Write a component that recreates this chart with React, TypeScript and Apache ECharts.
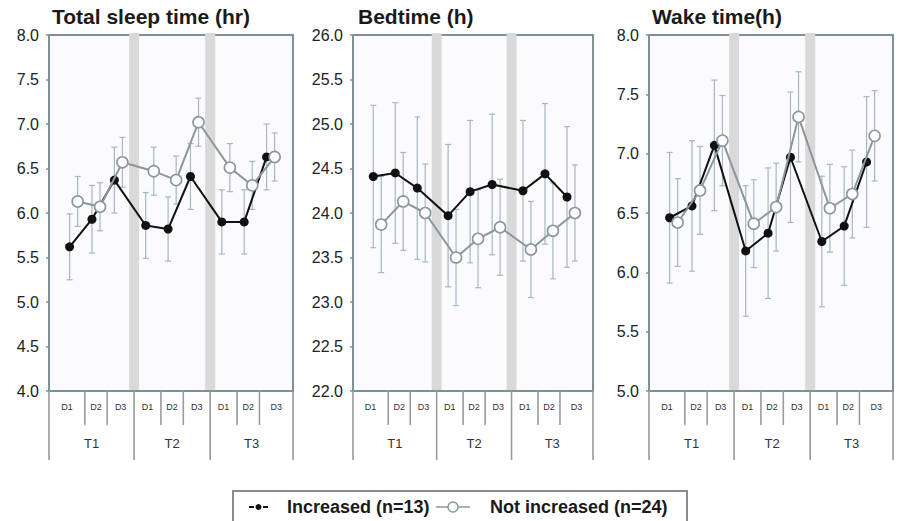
import React, { useEffect, useRef } from 'react';
import * as echarts from 'echarts';

const periods = ['T1', 'T2', 'T3'];
const days = ['D1', 'D2', 'D3'];
const seriesNames = ['Increased (n=13)', 'Not increased (n=24)'];
const panelTitles = ['Total sleep time (hr)', 'Bedtime (h)', 'Wake time(h)'];
const yMins = [4, 22, 5];
const yMaxs = [8, 26, 8];

// Total sleep time (hr)
const incSleep = [5.62, 5.93, 6.37, 5.86, 5.82, 6.41, 5.9, 5.9, 6.63];
const incSleepErr = [0.37, 0.38, 0.37, 0.37, 0.36, 0.37, 0.36, 0.36, 0.37];
const notSleep = [6.13, 6.07, 6.57, 6.47, 6.37, 7.02, 6.51, 6.31, 6.63];
const notSleepErr = [0.28, 0.27, 0.28, 0.27, 0.27, 0.27, 0.27, 0.27, 0.27];

// Bedtime (h)
const incBed = [24.41, 24.45, 24.28, 23.97, 24.24, 24.32, 24.25, 24.44, 24.18];
const incBedErr = [0.8, 0.79, 0.8, 0.8, 0.8, 0.79, 0.79, 0.79, 0.79];
const notBed = [23.87, 24.13, 24.0, 23.5, 23.71, 23.84, 23.59, 23.8, 24.0];
const notBedErr = [0.54, 0.55, 0.55, 0.54, 0.55, 0.54, 0.54, 0.54, 0.54];

// Wake time (h)
const incWake = [6.46, 6.56, 7.07, 6.18, 6.33, 6.97, 6.26, 6.39, 6.93];
const incWakeErr = [0.55, 0.55, 0.55, 0.55, 0.55, 0.55, 0.55, 0.5, 0.55];
const notWake = [6.42, 6.69, 7.11, 6.41, 6.55, 7.31, 6.54, 6.66, 7.15];
const notWakeErr = [0.37, 0.37, 0.38, 0.37, 0.37, 0.38, 0.37, 0.37, 0.38];

const panelData = [
  { inc: incSleep, incErr: incSleepErr, not: notSleep, notErr: notSleepErr },
  { inc: incBed, incErr: incBedErr, not: notBed, notErr: notBedErr },
  { inc: incWake, incErr: incWakeErr, not: notWake, notErr: notWakeErr },
];

// layout constants
const GROUP_STEP = 3.4;
const OFFSET = 0.36;
const X_MIN = -0.92;
const X_MAX = 9.98;
const BAND_HALF = 0.225;
const FONT = '"Liberation Sans", Arial, Helvetica, sans-serif';
const GRID_LEFT = [49, 353, 649];
const GRID_WIDTH = [244, 240, 244];
const TITLE_LEFT = [52, 358, 652];
const GRID_TOP = 35;
const GRID_HEIGHT = 356;

const NOT_COLOR = '#8b979b';
const ERR_COLOR = '#a3b8c1';

function xOf(i: number, s: number) {
  const g = Math.floor(i / days.length);
  const d = i % days.length;
  return g * GROUP_STEP + d + s * OFFSET;
}
function groupBoundary(g: number) {
  return g * GROUP_STEP + (days.length - 1 + OFFSET + GROUP_STEP) / 2;
}
function groupStart(g: number) {
  return g === 0 ? X_MIN : groupBoundary(g - 1);
}
function groupEnd(g: number) {
  return g === periods.length - 1 ? X_MAX : groupBoundary(g);
}
function dayCells(g: number) {
  const cuts = [groupStart(g)];
  for (let d = 0; d < days.length - 1; d++) cuts.push(g * GROUP_STEP + d + 0.5 + OFFSET / 2);
  cuts.push(groupEnd(g));
  return cuts;
}

function errorSeries(p: number, vals: number[], errs: number[], s: number) {
  return {
    type: 'custom',
    xAxisIndex: p,
    yAxisIndex: p,
    silent: true,
    z: 2,
    clip: false,
    data: vals.map((v, i) => [xOf(i, s), v - errs[i], v + errs[i]]),
    renderItem: (params: any, api: any) => {
      const x = api.value(0);
      const lo = api.coord([x, api.value(1)]);
      const hi = api.coord([x, api.value(2)]);
      const st = { stroke: ERR_COLOR, lineWidth: 1.2 };
      return {
        type: 'group',
        children: [
          { type: 'line', shape: { x1: lo[0], y1: lo[1], x2: hi[0], y2: hi[1] }, style: st },
          { type: 'line', shape: { x1: hi[0] - 3, y1: hi[1], x2: hi[0] + 3, y2: hi[1] }, style: st },
          { type: 'line', shape: { x1: lo[0] - 3, y1: lo[1], x2: lo[0] + 3, y2: lo[1] }, style: st },
        ],
      };
    },
  };
}

function bandSeries(p: number) {
  const centers = periods.slice(0, -1).map((_, g) => groupBoundary(g));
  return {
    type: 'custom',
    xAxisIndex: p,
    yAxisIndex: p,
    silent: true,
    z: 1,
    clip: false,
    data: centers.map((c) => [c]),
    renderItem: (params: any, api: any) => {
      const c = api.value(0);
      const a = api.coord([c - BAND_HALF, yMaxs[p]]);
      const b = api.coord([c + BAND_HALF, yMins[p]]);
      return {
        type: 'rect',
        shape: { x: a[0], y: a[1] - 2, width: b[0] - a[0], height: b[1] - a[1] + 1 },
        style: { fill: '#d9d9d9' },
      };
    },
  };
}

function tableSeries(p: number) {
  return {
    type: 'custom',
    xAxisIndex: p,
    yAxisIndex: p,
    silent: true,
    z: 1,
    clip: false,
    data: [[0, yMins[p]]],
    renderItem: (params: any, api: any) => {
      const yb = api.coord([0, yMins[p]])[1];
      const px = (v: number) => api.coord([v, yMins[p]])[0];
      const st = { stroke: '#9a9a9a', lineWidth: 1.6 };
      const children: any[] = [];
      const edges = [X_MIN, ...periods.map((_, g) => groupEnd(g))];
      edges.forEach((v) => {
        children.push({ type: 'line', shape: { x1: px(v), y1: yb, x2: px(v), y2: yb + 69 }, style: st });
      });
      periods.forEach((pl, g) => {
        const cuts = dayCells(g);
        for (let k = 1; k < cuts.length - 1; k++) {
          children.push({ type: 'line', shape: { x1: px(cuts[k]), y1: yb, x2: px(cuts[k]), y2: yb + 34 }, style: st });
        }
        days.forEach((dl, d) => {
          children.push({
            type: 'text',
            style: {
              text: dl,
              x: px((cuts[d] + cuts[d + 1]) / 2),
              y: yb + 16,
              align: 'center',
              verticalAlign: 'middle',
              fontSize: 9,
              fill: '#333',
              fontFamily: FONT,
            },
          });
        });
        children.push({
          type: 'text',
          style: {
            text: pl,
            x: px((groupStart(g) + groupEnd(g)) / 2),
            y: yb + 52,
            align: 'center',
            verticalAlign: 'middle',
            fontSize: 13,
            fill: '#333',
            fontFamily: FONT,
          },
        });
      });
      return { type: 'group', children };
    },
  };
}

export default function App() {
  const ref = useRef<HTMLDivElement>(null);
  useEffect(() => {
    document.body.style.margin = '0';
    if (!ref.current) return;
    const chart = echarts.init(ref.current, undefined, { renderer: 'svg' });
    const grids = [0, 1, 2].map((p) => ({
      left: GRID_LEFT[p],
      top: GRID_TOP,
      width: GRID_WIDTH[p],
      height: GRID_HEIGHT,
      show: true,
      backgroundColor: '#fbfbfd',
      borderColor: '#7d9297',
      borderWidth: 2,
    }));
    const xAxes = [0, 1, 2].map((p) => ({
      type: 'value',
      gridIndex: p,
      min: X_MIN,
      max: X_MAX,
      show: false,
      axisLine: { onZero: false },
    }));
    const yAxes = [0, 1, 2].map((p) => ({
      type: 'value',
      gridIndex: p,
      position: 'left',
      min: yMins[p],
      max: yMaxs[p],
      interval: 0.5,
      axisLine: { show: false, onZero: false },
      axisTick: { show: true, length: 3, lineStyle: { color: '#7d9297', width: 1.5 } },
      splitLine: { show: false },
      axisLabel: {
        fontSize: 16,
        color: '#222',
        margin: 10,
        fontFamily: FONT,
        formatter: (v: number) => v.toFixed(1),
      },
    }));
    const series: any[] = [];
    [0, 1, 2].forEach((p) => {
      const d = panelData[p];
      series.push(bandSeries(p));
      series.push(tableSeries(p));
      series.push(errorSeries(p, d.inc, d.incErr, 0));
      series.push(errorSeries(p, d.not, d.notErr, 1));
      series.push({
        type: 'line',
        name: seriesNames[0],
        xAxisIndex: p,
        yAxisIndex: p,
        z: 4,
        data: d.inc.map((v, i) => [xOf(i, 0), v]),
        symbol: 'circle',
        symbolSize: 9,
        itemStyle: { color: '#111' },
        lineStyle: { color: '#111', width: 2 },
      });
      series.push({
        type: 'line',
        name: seriesNames[1],
        xAxisIndex: p,
        yAxisIndex: p,
        z: 5,
        data: d.not.map((v, i) => [xOf(i, 1), v]),
        symbol: 'circle',
        symbolSize: 11,
        itemStyle: { color: '#ffffff', borderColor: NOT_COLOR, borderWidth: 1.6 },
        lineStyle: { color: NOT_COLOR, width: 2 },
      });
    });
    const ly = 507;
    const legendText = {
      fontSize: 18,
      fontWeight: 'bold',
      fill: '#1a1a1a',
      fontFamily: FONT,
      verticalAlign: 'middle',
    };
    chart.setOption({
      animation: false,
      title: panelTitles.map((t, p) => ({
        text: t,
        left: TITLE_LEFT[p],
        top: 6,
        padding: 0,
        textStyle: { fontSize: 21, fontWeight: 'bold', color: '#1a1a1a', fontFamily: FONT },
      })),
      grid: grids,
      xAxis: xAxes,
      yAxis: yAxes,
      series,
      graphic: [
        { type: 'rect', shape: { x: 233, y: 491, width: 454, height: 60 }, style: { fill: '#fff', stroke: '#8a8a8a', lineWidth: 2 } },
        { type: 'line', shape: { x1: 249, y1: ly, x2: 254, y2: ly }, style: { stroke: '#111', lineWidth: 2 } },
        { type: 'circle', shape: { cx: 258.5, cy: ly, r: 3 }, style: { fill: '#111' } },
        { type: 'line', shape: { x1: 263, y1: ly, x2: 268, y2: ly }, style: { stroke: '#111', lineWidth: 2 } },
        { type: 'text', x: 287, y: ly, style: { text: seriesNames[0], ...legendText } },
        { type: 'line', shape: { x1: 436, y1: ly, x2: 470, y2: ly }, style: { stroke: NOT_COLOR, lineWidth: 1.5 } },
        { type: 'circle', shape: { cx: 453, cy: ly, r: 5 }, style: { fill: '#fff', stroke: NOT_COLOR, lineWidth: 1.5 } },
        { type: 'text', x: 490, y: ly, style: { text: seriesNames[1], ...legendText } },
      ],
    });
    return () => chart.dispose();
  }, []);
  return <div ref={ref} style={{ width: 899, height: 521 }} />;
}
